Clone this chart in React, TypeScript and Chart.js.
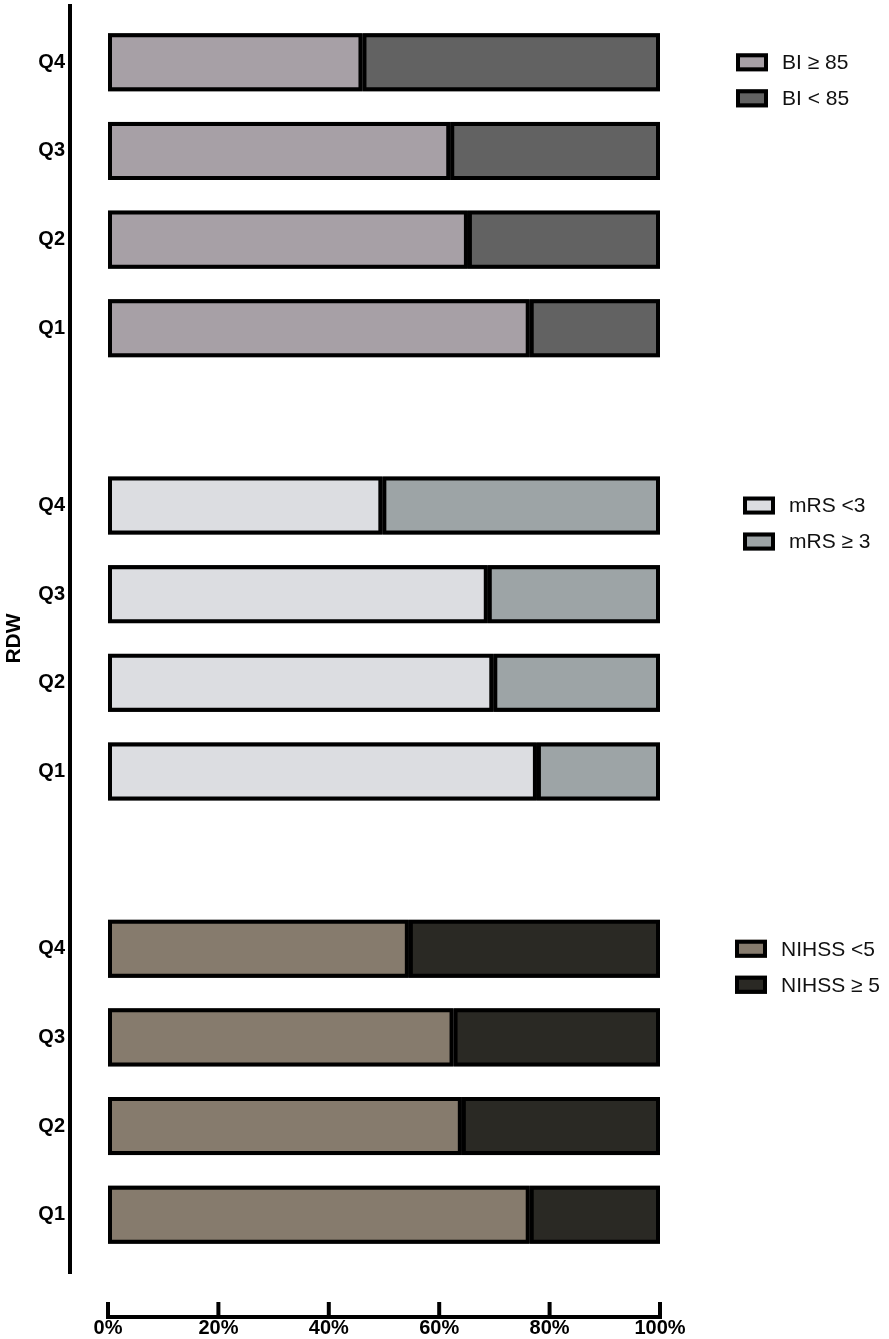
import { useEffect, useRef } from 'react';
import Chart from 'chart.js/auto';

// row labels, top to bottom; blank entries are the gaps between the three panels
const rowLabels = ['Q4', 'Q3', 'Q2', 'Q1', '', 'Q4', 'Q3', 'Q2', 'Q1', '', 'Q4', 'Q3', 'Q2', 'Q1'];

// percentages per RDW quartile (Q4..Q1)
const biHigh = [46.1, 62.0, 65.2, 76.4];   // BI ≥ 85
const biLow = [53.9, 38.0, 34.8, 23.6];    // BI < 85
const mrsLow = [49.7, 68.8, 69.8, 77.7];   // mRS <3
const mrsHigh = [50.3, 31.2, 30.2, 22.3];  // mRS ≥ 3
const nihssLow = [54.5, 62.6, 64.1, 76.4]; // NIHSS <5
const nihssHigh = [45.5, 37.4, 35.9, 23.6]; // NIHSS ≥ 5

const xTicks = [0, 20, 40, 60, 80, 100];

// first row index of each panel
const panelStart = [0, 5, 10];
// legend box left edge, measured from the right end of the plot
const legendOffset = [76, 83, 75];

const FONT = '"Liberation Sans", Arial, Helvetica, sans-serif';

function place(values: number[], start: number) {
  const out: (number | null)[] = rowLabels.map(() => null);
  values.forEach((v, i) => { out[start + i] = v; });
  return out;
}

function makeSet(label: string, values: number[], start: number, color: string) {
  return {
    label,
    data: place(values, start),
    backgroundColor: color,
    borderColor: '#000',
    borderWidth: 4,
    borderSkipped: false as const,
    inflateAmount: 0,
    categoryPercentage: 1,
    barPercentage: 0.655,
  };
}

// paint each bar black first so the seam between stacked pieces stays solid
const barBacking = {
  id: 'barBacking',
  beforeDatasetsDraw(chart: any) {
    const { ctx } = chart;
    ctx.save();
    ctx.fillStyle = '#000';
    chart.data.datasets.forEach((_: any, i: number) => {
      chart.getDatasetMeta(i).data.forEach((el: any) => {
        const { x, y, base, height } = el.getProps(['x', 'y', 'base', 'height'], true);
        if (x == null || isNaN(x) || isNaN(base) || x === base) return;
        ctx.fillRect(Math.min(x, base), y - height / 2, Math.abs(x - base), height);
      });
    });
    ctx.restore();
  },
};

const axesAndLegends = {
  id: 'axesAndLegends',
  afterDraw(chart: any) {
    const { ctx, chartArea, scales } = chart;
    const x = scales.x;
    const y = scales.y;
    ctx.save();
    ctx.strokeStyle = '#000';
    ctx.lineWidth = 4;
    ctx.lineCap = 'butt';

    // vertical axis line, set off to the left of the bars
    const ax = chartArea.left - 38;
    ctx.beginPath();
    ctx.moveTo(ax, chartArea.top - 14);
    ctx.lineTo(ax, chartArea.bottom + 15);
    ctx.stroke();

    // horizontal axis line with ticks pointing up
    const ay = chartArea.bottom + 58;
    ctx.beginPath();
    ctx.moveTo(x.getPixelForValue(0) - 2, ay);
    ctx.lineTo(x.getPixelForValue(100) + 2, ay);
    ctx.stroke();
    xTicks.forEach((t) => {
      const px = x.getPixelForValue(t);
      ctx.beginPath();
      ctx.moveTo(px, ay + 2);
      ctx.lineTo(px, ay - 15);
      ctx.stroke();
    });

    // one legend per panel
    ctx.font = `21px ${FONT}`;
    ctx.textBaseline = 'middle';
    ctx.textAlign = 'left';
    panelStart.forEach((start, g) => {
      const bx = chartArea.right + legendOffset[g];
      [0, 1].forEach((k) => {
        const ds = chart.data.datasets[g * 2 + k];
        const cy = y.getPixelForValue(start) + k * 36;
        ctx.fillStyle = ds.backgroundColor;
        ctx.fillRect(bx, cy - 9, 32, 18);
        ctx.lineWidth = 4;
        ctx.strokeStyle = '#000';
        ctx.strokeRect(bx + 2, cy - 7, 28, 14);
        ctx.fillStyle = '#111';
        ctx.fillText(ds.label, bx + 46, cy + 1);
      });
    });
    ctx.restore();
  },
};

function RdwChart() {
  const chartRef = useRef<HTMLCanvasElement>(null);
  const chartInstance = useRef<Chart | null>(null);

  useEffect(() => {
    if (!chartRef.current) return;
    if (chartInstance.current) chartInstance.current.destroy();
    const ctx = chartRef.current.getContext('2d');
    if (!ctx) return;

    chartInstance.current = new Chart(ctx, {
      type: 'bar',
      data: {
        labels: rowLabels,
        datasets: [
          makeSet('BI ≥ 85', biHigh, panelStart[0], '#a7a0a6'),
          makeSet('BI < 85', biLow, panelStart[0], '#626262'),
          makeSet('mRS <3', mrsLow, panelStart[1], '#dcdde1'),
          makeSet('mRS ≥ 3', mrsHigh, panelStart[1], '#9da4a6'),
          makeSet('NIHSS <5', nihssLow, panelStart[2], '#867b6d'),
          makeSet('NIHSS ≥ 5', nihssHigh, panelStart[2], '#2a2924'),
        ],
      },
      options: {
        indexAxis: 'y',
        animation: false,
        responsive: true,
        maintainAspectRatio: false,
        layout: { padding: { top: 18, right: 229, bottom: 0, left: 0 } },
        plugins: {
          legend: { display: false },
          tooltip: { enabled: false },
        },
        scales: {
          x: {
            stacked: true,
            min: 0,
            max: 100,
            grid: { display: false, drawTicks: false },
            border: { display: false },
            afterFit: (s: any) => { s.height = 80; },
            afterBuildTicks: (s: any) => { s.ticks = xTicks.map((v) => ({ value: v })); },
            ticks: {
              padding: 57,
              color: '#000',
              font: { family: FONT, size: 20, weight: 'bold' },
              callback: (v: any) => `${v}%`,
            },
          },
          y: {
            stacked: true,
            grid: { display: false, drawTicks: false },
            border: { display: false },
            afterFit: (s: any) => {
              s.width = 108;
              // the wide label padding must not push the plot down
              s.paddingTop = 0;
              s.paddingBottom = 0;
            },
            title: {
              display: true,
              text: 'RDW',
              color: '#000',
              padding: { top: 2, bottom: 0 },
              font: { family: FONT, size: 21, weight: 'bold' },
            },
            ticks: {
              padding: 43,
              autoSkip: false,
              color: '#000',
              font: { family: FONT, size: 20, weight: 'bold' },
            },
          },
        },
      },
      plugins: [barBacking, axesAndLegends],
    });

    return () => {
      if (chartInstance.current) {
        chartInstance.current.destroy();
        chartInstance.current = null;
      }
    };
  }, []);

  return <canvas ref={chartRef} />;
}

export default function App() {
  useEffect(() => {
    document.body.style.margin = '0';
    document.body.style.overflow = 'hidden';
  }, []);

  return (
    <div style={{ position: 'relative', width: 889, height: 1339, background: '#fff' }}>
      <RdwChart />
    </div>
  );
}
